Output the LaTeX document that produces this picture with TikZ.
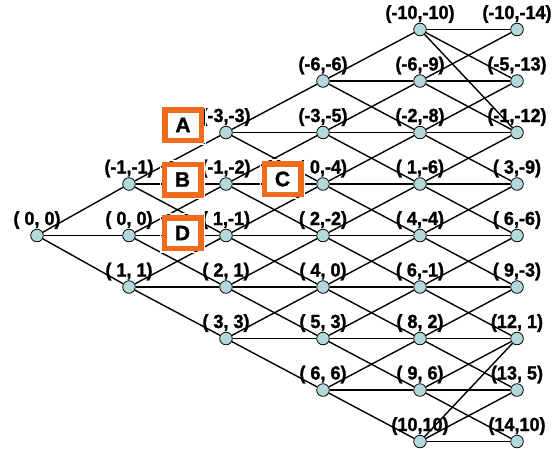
\documentclass[tikz,border=0pt]{standalone}
\usepackage{fontspec}
\setmainfont{Liberation Sans}
\newfontfamily\heavyfont{Liberation Sans Bold}[FakeBold=1.3]
\definecolor{dotfill}{RGB}{178,216,220}
\definecolor{boxorange}{RGB}{240,108,28}
\pgfdeclarelayer{bg}
\pgfsetlayers{bg,main}
\tikzset{
  dot/.style={circle,draw=black,line width=0.8pt,fill=dotfill,minimum size=12.6pt,inner sep=0pt},
  edge/.style={line width=1.4pt,black},
  lbl/.style={anchor=base,inner sep=0pt,font=\heavyfont\fontsize{19}{19}\selectfont},
  letterbox/.style={draw=boxorange,line width=5.5pt,fill=white,minimum width=36.5pt,minimum height=30.5pt,inner sep=0pt,font=\heavyfont\fontsize{21}{21}\selectfont}
}
\newcommand{\sq}[1]{\scalebox{0.95}[1]{#1}}
\begin{document}
\begin{tikzpicture}[x=1pt,y=-1pt]
\useasboundingbox (0,0) rectangle (556,448);
% tree nodes
\foreach \c/\xc/\lo/\hi in {0/37/4/4,1/129/3/5,2/226/2/6,3/323/1/7,4/420/0/8,5/517/0/8}{
  \foreach \r in {\lo,...,\hi}{
    \node[dot] (n\c-\r) at (\xc,{29.5+51.5*\r}) {};
  }
}
% labels
\begin{pgfonlayer}{bg}
\foreach \c/\r/\t in {0/4/{( 0, 0)},
  1/3/{(-1,-1)},1/4/{( 0, 0)},1/5/{( 1, 1)},
  2/2/{(-3,-3)},2/3/{(-1,-2)},2/4/{( 1,-1)},2/5/{( 2, 1)},2/6/{( 3, 3)},
  3/1/{(-6,-6)},3/2/{(-3,-5)},3/3/{( 0,-4)},3/4/{( 2,-2)},3/5/{( 4, 0)},3/6/{( 5, 3)},3/7/{( 6, 6)},
  4/0/{(-10,-10)},4/1/{(-6,-9)},4/2/{(-2,-8)},4/3/{( 1,-6)},4/4/{( 4,-4)},4/5/{( 6,-1)},4/6/{( 8, 2)},4/7/{( 9, 6)},4/8/{(10,10)},
  5/0/{(-10,-14)},5/1/{(-5,-13)},5/2/{(-1,-12)},5/3/{( 3,-9)},5/4/{( 6,-6)},5/5/{( 9,-3)},5/6/{(12, 1)},5/7/{(13, 5)},5/8/{(14,10)}}{
  \node[lbl] (t\c-\r) at ([yshift=10.5pt]n\c-\r.center) {\sq{\t}};
}
\end{pgfonlayer}
% edges
\foreach \c/\lo/\hi in {0/4/4,1/3/5,2/2/6,3/1/7,4/1/7}{
  \foreach \r in {\lo,...,\hi}{
    \pgfmathtruncatemacro\d{\c+1}
    \pgfmathtruncatemacro\u{\r-1}
    \pgfmathtruncatemacro\w{\r+1}
    \draw[edge] (n\c-\r) -- (n\d-\u);
    \draw[edge] (n\c-\r) -- (n\d-\r);
    \draw[edge] (n\c-\r) -- (n\d-\w);
  }
}
\draw[edge] (n4-0) -- (n5-0);
\draw[edge] (n4-0) -- (n5-1);
\draw[edge] (n4-0) -- (n5-2);
\draw[edge] (n4-8) -- (n5-8);
\draw[edge] (n4-8) -- (n5-7);
\draw[edge] (n4-8) -- (n5-6);
% letter boxes
\foreach \n/\bx/\by in {A/183/125,B/182.5/179.5,D/182.5/233,C/282.5/179}{
  \node[letterbox] (box\n) at (\bx,\by) {\n};
  \draw[white,line width=0.7pt] ([xshift=-1.3pt,yshift=1.3pt]box\n.north west) rectangle ([xshift=1.3pt,yshift=-1.3pt]box\n.south east);
}
\end{tikzpicture}
\end{document}
